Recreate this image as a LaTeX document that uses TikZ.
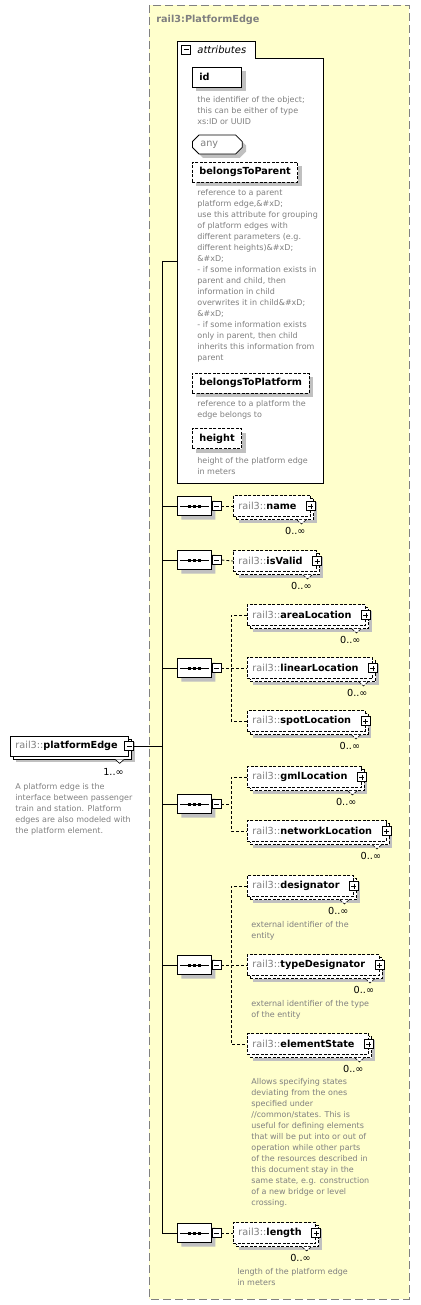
\documentclass[tikz,border=0pt]{standalone}
\usepackage{fontspec}
\setmainfont{DejaVu Sans}
\usetikzlibrary{shapes.misc,shadows}

\definecolor{bgyellow}{RGB}{255,255,204}
\definecolor{framegrey}{RGB}{128,128,128}
\definecolor{txtgrey}{RGB}{128,128,128}
\definecolor{shgrey}{RGB}{192,192,192}

\newcommand{\lblfont}{\fontsize{9.7}{11}\selectfont}
\newcommand{\descfont}{\fontsize{8}{11}\selectfont}
\newcommand{\pre}{{\mdseries\color{txtgrey}rail3::}}

\begin{document}
\begin{tikzpicture}[x=1pt,y=-1pt,line width=0.8pt,
    frame/.style={draw=framegrey, dash pattern=on 8pt off 4pt, fill=bgyellow},
    stack/.style={general shadow={shadow xshift=6pt, shadow yshift=-6pt, fill=shgrey},
                  general shadow={shadow xshift=3pt, shadow yshift=-3pt, fill=white, draw=black, #1}},
    elem/.style={draw, fill=white, font=\lblfont, anchor=west, minimum height=21pt,
                 inner xsep=5pt, inner ysep=0pt, dash pattern=on 3pt off 1.5pt,
                 stack={dash pattern=on 3pt off 1.5pt}, execute at end node={\hspace{9pt}}},
    root/.style={draw, fill=white, font=\lblfont, anchor=west, minimum height=20pt,
                 inner xsep=5pt, inner ysep=0pt, stack={solid}, execute at end node={\hspace{6pt}}},
    attr/.style={draw, fill=white, font=\lblfont\bfseries, anchor=west, minimum height=20pt,
                 inner xsep=7pt, inner ysep=0pt,
                 general shadow={shadow xshift=4pt, shadow yshift=-4pt, fill=shgrey}},
    optl/.style={dash pattern=on 3pt off 1.5pt},
    seq/.style={chamfered rectangle, chamfered rectangle xsep=5pt, draw, fill=white,
                minimum width=34pt, minimum height=19pt, inner sep=0pt, anchor=west,
                general shadow={shadow xshift=4pt, shadow yshift=-4pt, fill=shgrey}},
    minus/.style={draw, solid, fill=white, minimum size=9pt, inner sep=0pt, line width=0.6pt,
                  path picture={\draw ([xshift=2pt]path picture bounding box.west)
                                   -- ([xshift=-2pt]path picture bounding box.east);}},
    plus/.style={draw, solid, fill=white, minimum size=9pt, inner sep=0pt, line width=0.6pt,
                 path picture={\draw ([xshift=2pt]path picture bounding box.west)
                                  -- ([xshift=-2pt]path picture bounding box.east);
                               \draw ([yshift=2pt]path picture bounding box.south)
                                  -- ([yshift=-2pt]path picture bounding box.north);}},
    notch/.style={draw, fill=white, line width=0.6pt},
    mult/.style={font=\lblfont, anchor=east, inner sep=0pt},
    desc/.style={font=\descfont, text=txtgrey, align=left, anchor=north west, inner sep=0pt},
    link/.style={dash pattern=on 3pt off 2pt}]
  \useasboundingbox (0,0) rectangle (420,1305);

  % complex type frame
  \draw[frame] (149,5) rectangle (409,1299);
  \node[anchor=west, inner sep=0pt, font=\lblfont\bfseries, text=txtgrey] (ttl) at (156,20) {rail3:PlatformEdge};

  % attributes
  \draw[fill=white] (177,41) -- (255,41) -- (255,58) -- (323,58) -- (323,483) -- (177,483) -- cycle;
  \node[minus] (attrm) at (186,49.5) {};
  \node[anchor=west, inner sep=0pt, font=\fontsize{10}{12}\selectfont\itshape] (attrt) at (197,49.5) {attributes};
  \coordinate (attrin) at (177,261);

  \node[attr] (id) at (192,77) {id\hspace{25pt}\mbox{}};
  \node[desc] (iddesc) at (197,96) {the identifier of the object;\\this can be either of type\\xs:ID or UUID};
  \node[attr, chamfered rectangle, chamfered rectangle xsep=3pt, font=\lblfont, text=txtgrey,
        inner xsep=5pt, minimum height=19pt] (any) at (192,144.5) {any\hspace{16pt}\mbox{}};
  \node[attr, optl] (btparent) at (192,172) {belongsToParent};
  \node[desc] (btparentdesc) at (197,189) {reference to a parent\\platform edge,\&\#xD;\\use this attribute for grouping\\of platform edges with\\different parameters (e.g.\\different heights)\&\#xD;\\\&\#xD;\\- if some information exists in\\parent and child, then\\information in child\\overwrites it in child\&\#xD;\\\&\#xD;\\- if some information exists\\only in parent, then child\\inherits this information from\\parent};
  \node[attr, optl] (btplatform) at (192,383) {belongsToPlatform};
  \node[desc] (btplatformdesc) at (197,400) {reference to a platform the\\edge belongs to};
  \node[attr, optl] (height) at (192,438.5) {height};
  \node[desc] (heightdesc) at (197,457) {height of the platform edge\\in meters};

  % root element
  \node[root] (pe) at (10,746) {\pre\textbf{platformEdge}};
  \node[minus] (pe-m) at (pe.east) {};
  \draw[notch] ([shift={(-14,3)}]pe.south east) -- ++(4.5,4) -- ++(4.5,-4);
  \node[mult] (pe-mu) at ([shift={(-5,15.5)}]pe.south east) {1..∞};
  \node[desc] (pedesc) at (15,783) {A platform edge is the\\interface between passenger\\train and station. Platform\\edges are also modeled with\\the platform element.};

  % spine
  \coordinate (spinetop) at (162,261);
  \coordinate (spinebot) at (162,1233);
  \draw (spinetop) -- (spinebot);
  \draw (spinetop) -- (attrin);
  \draw (pe-m.east) -- (pe-m.east -| spinetop);

  % sequences
  \node[seq] (s1) at (177,506) {};
  \node[seq] (s2) at (177,560) {};
  \node[seq] (s3) at (177,668) {};
  \node[seq] (s4) at (177,804) {};
  \node[seq] (s5) at (177,965) {};
  \node[seq] (s6) at (177,1233) {};
  \foreach \sq in {s1,s2,s3,s4,s5,s6} {
    \node[minus, anchor=west] (\sq-m) at (\sq.east) {};
    \draw ([xshift=3pt]\sq.west) -- ([xshift=-3pt]\sq.east);
    \foreach \d in {-5,0,5}
      \fill ([xshift=\d pt]\sq.center) +(-1.5,-1.5) rectangle +(1.5,1.5);
    \draw (\sq.west -| spinetop) -- (\sq.west);
  }

  % elements
  \node[elem] (name) at (233,506) {\pre\textbf{name}};
  \node[elem] (isvalid) at (233,561) {\pre\textbf{isValid}};
  \node[elem] (arealoc) at (247,615) {\pre\textbf{areaLocation}};
  \node[elem] (linloc) at (247,668) {\pre\textbf{linearLocation}};
  \node[elem] (spotloc) at (247,721) {\pre\textbf{spotLocation}};
  \node[elem] (gmlloc) at (247,777) {\pre\textbf{gmlLocation}};
  \node[elem] (netloc) at (247,831) {\pre\textbf{networkLocation}};
  \node[elem] (desig) at (247,886) {\pre\textbf{designator}};
  \node[desc] (desigdesc) at (251,921) {external identifier of the\\entity};
  \node[elem] (typedesig) at (247,965) {\pre\textbf{typeDesignator}};
  \node[desc] (typedesigdesc) at (251,1000) {external identifier of the type\\of the entity};
  \node[elem] (elstate) at (247,1044) {\pre\textbf{elementState}};
  \node[desc] (elstatedesc) at (251,1078) {Allows specifying states\\deviating from the ones\\specified under\\//common/states. This is\\useful for defining elements\\that will be put into or out of\\operation while other parts\\of the resources described in\\this document stay in the\\same state, e.g. construction\\of a new bridge or level\\crossing.};
  \node[elem] (length) at (233,1233) {\pre\textbf{length}};
  \node[desc] (lengthdesc) at (237,1268) {length of the platform edge\\in meters};

  \foreach \n in {name,isvalid,arealoc,linloc,spotloc,gmlloc,netloc,desig,typedesig,elstate,length} {
    \node[plus] (\n-p) at (\n.east) {};
    \draw[notch, dash pattern=on 3pt off 1.5pt] ([shift={(-14,3)}]\n.south east) -- ++(4.5,4) -- ++(4.5,-4);
    \node[mult] (\n-mu) at ([shift={(-5,14.5)}]\n.south east) {0..∞};
  }

  % links
  \coordinate (b3) at (231,668);
  \coordinate (b4) at (231,804);
  \coordinate (b5) at (231,965);
  \draw[link] (s1-m.east) -- (name.west);
  \draw[link] (s2-m.east) -- (isvalid.west);
  \draw[link] (s6-m.east) -- (length.west);
  \draw[link] (s3-m.east) -- (b3);
  \draw[link] (arealoc.west) -| (b3) |- (spotloc.west);
  \draw[link] (b3) -- (linloc.west);
  \draw[link] (s4-m.east) -- (b4);
  \draw[link] (gmlloc.west) -| (b4) |- (netloc.west);
  \draw[link] (s5-m.east) -- (b5);
  \draw[link] (desig.west) -| (b5) |- (elstate.west);
  \draw[link] (b5) -- (typedesig.west);

\end{tikzpicture}
\end{document}
